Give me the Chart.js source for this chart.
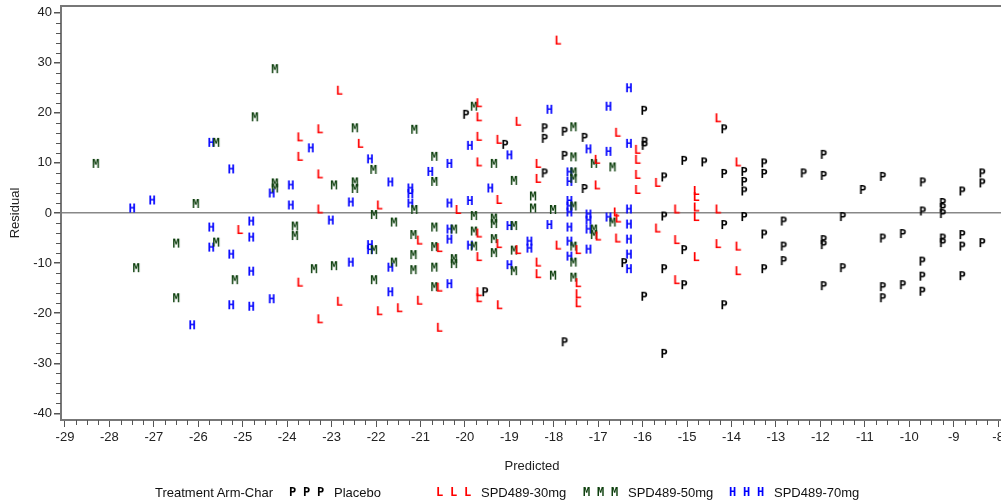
<!DOCTYPE html>
<html>
<head>
<meta charset="utf-8">
<script src="https://cdn.jsdelivr.net/npm/chart.js@4.4.0/dist/chart.umd.min.js"></script>
<style>
html, body { margin: 0; padding: 0; background: #fff; overflow: hidden; }
#wrap { position: relative; width: 1001px; height: 502px; overflow: hidden; }
#residChart { position: absolute; left: 0; top: 0; }
#legend { position: absolute; left: 0; top: 485px; width: 1001px; height: 16px;
  font: 13px "Liberation Sans", Arial, sans-serif; color: #111; }
#legend span { position: absolute; top: 0; white-space: nowrap; line-height: 16px; }
#legend .mk { font: bold 12px "DejaVu Sans Mono", monospace; }
</style>
</head>
<body>
<div id="wrap">
  <canvas id="residChart" width="1009" height="502"></canvas>
  <div id="legend"></div>
</div>
<script>
// tick labels
const xTicks = [-29, -28, -27, -26, -25, -24, -23, -22, -21, -20, -19, -18, -17, -16, -15, -14, -13, -12, -11, -10, -9, -8];
const yTicks = [-40, -30, -20, -10, 0, 10, 20, 30, 40];

// Placebo (P) : [predicted, residual]
const placeboPts = [
  [-19.98, 19.6], [-19.1, 13.6], [-18.21, 16.9], [-17.76, 16.2], [-18.21, 14.8], [-17.31, 15.0],
  [-15.97, 20.4], [-15.96, 14.2], [-15.96, 13.4], [-17.76, 11.4], [-18.21, 7.9], [-17.31, 4.8],
  [-15.52, 7.1], [-15.52, -0.7], [-16.42, -10.0], [-15.52, -11.2], [-15.97, -16.7], [-17.76, -25.8],
  [-15.52, -28.1], [-19.55, -15.8], [-14.17, 16.7], [-15.07, 10.4], [-14.62, 10.1], [-13.27, 9.9],
  [-13.27, 7.8], [-11.93, 11.6], [-11.93, 7.4], [-12.38, 7.9], [-14.17, 7.8], [-13.72, 8.2],
  [-13.72, 6.2], [-13.72, 4.3], [-11.05, 4.6], [-10.6, 7.2], [-9.7, 6.1], [-8.81, 4.3],
  [-8.36, 7.9], [-8.36, 5.9], [-9.25, 2.0], [-9.25, 1.0], [-9.25, -0.2], [-9.7, 0.3],
  [-13.72, -0.8], [-11.5, -0.8], [-14.17, -2.4], [-12.83, -1.7], [-15.07, -7.4], [-13.27, -4.3],
  [-12.83, -6.7], [-12.83, -9.6], [-11.93, -5.4], [-11.93, -6.4], [-10.6, -5.1], [-10.15, -4.2],
  [-9.25, -5.1], [-9.25, -6.0], [-8.81, -4.4], [-8.81, -6.7], [-8.36, -6.0], [-15.07, -14.4],
  [-13.27, -11.2], [-14.17, -18.4], [-11.93, -14.6], [-11.5, -11.0], [-10.6, -14.8], [-10.6, -17.0],
  [-10.15, -14.4], [-9.71, -9.7], [-9.71, -12.7], [-9.71, -15.7], [-8.81, -12.6]
];

// SPD489-30mg (L)
const mg30Pts = [
  [-22.83, 24.4], [-23.72, 15.1], [-23.72, 11.2], [-23.27, 16.7], [-23.27, 7.7], [-23.27, 0.7],
  [-25.07, -3.4], [-23.72, -13.9], [-22.83, -17.7], [-23.27, -21.2], [-17.91, 34.4], [-19.69, 21.9],
  [-19.69, 19.1], [-18.81, 18.2], [-16.57, 16.0], [-22.36, 13.8], [-19.69, 15.2], [-19.24, 14.6],
  [-16.12, 12.6], [-16.12, 10.6], [-19.69, 10.1], [-17.03, 10.6], [-18.36, 9.8], [-18.36, 6.8],
  [-16.12, 7.6], [-15.67, 6.0], [-17.03, 5.5], [-16.12, 4.6], [-19.24, 2.6], [-21.93, 1.5],
  [-20.16, 0.6], [-16.6, 0.1], [-16.56, -1.1], [-17.01, -4.7], [-16.57, -5.1], [-15.67, -3.1],
  [-21.03, -5.5], [-19.69, -4.1], [-19.24, -6.2], [-20.58, -7.0], [-19.69, -8.8], [-18.81, -7.4],
  [-17.91, -6.5], [-17.46, -7.4], [-18.36, -9.9], [-18.36, -12.2], [-17.46, -14.0], [-17.46, -16.2],
  [-17.46, -18.0], [-20.58, -14.9], [-19.69, -15.8], [-19.69, -17.0], [-19.23, -18.4], [-21.93, -19.6],
  [-21.48, -19.0], [-21.03, -17.5], [-20.58, -22.9], [-14.31, 18.9], [-13.86, 10.1], [-14.8, 4.4],
  [-14.8, 3.2], [-14.8, 1.1], [-14.8, -0.8], [-15.24, 0.7], [-14.31, 0.7], [-15.24, -5.4],
  [-14.8, -8.8], [-14.31, -6.2], [-13.86, -6.7], [-15.24, -13.4], [-13.86, -11.6]
];

// SPD489-50mg (M)
const mg50Pts = [
  [-28.31, 9.8], [-26.06, 1.8], [-25.6, 14.0], [-24.73, 19.1], [-24.28, 28.7], [-24.28, 5.9],
  [-24.28, 4.9], [-22.95, 5.5], [-23.83, -2.7], [-23.83, -4.6], [-26.5, -6.1], [-25.6, -5.9],
  [-27.4, -11.0], [-23.4, -11.2], [-22.95, -10.6], [-25.18, -13.4], [-26.5, -17.0], [-19.8, 21.2],
  [-22.48, 16.9], [-21.14, 16.6], [-17.56, 17.1], [-20.69, 11.2], [-19.35, 9.8], [-17.56, 11.1],
  [-17.1, 9.8], [-16.68, 9.1], [-22.06, 8.6], [-17.56, 8.1], [-17.56, 6.8], [-20.69, 6.2],
  [-18.9, 6.4], [-22.48, 6.1], [-22.48, 4.8], [-18.47, 3.3], [-18.47, 0.9], [-18.02, 0.6],
  [-17.56, 1.3], [-21.14, 0.6], [-22.05, -0.4], [-21.6, -1.9], [-19.8, -0.6], [-19.35, -1.1],
  [-19.35, -2.2], [-18.9, -2.6], [-17.1, -3.3], [-17.1, -4.4], [-16.68, -1.9], [-21.16, -4.4],
  [-20.69, -2.9], [-20.25, -3.3], [-19.8, -3.7], [-19.35, -5.2], [-19.8, -6.7], [-22.05, -7.4],
  [-20.69, -6.8], [-21.16, -8.4], [-19.35, -8.0], [-18.9, -7.5], [-17.56, -6.7], [-17.56, -9.9],
  [-21.6, -9.9], [-21.16, -11.4], [-20.69, -10.9], [-20.25, -9.2], [-20.25, -10.2], [-18.9, -11.6],
  [-18.02, -12.5], [-17.56, -12.9], [-22.05, -13.4], [-20.69, -14.8]
];

// SPD489-70mg (H)
const mg70Pts = [
  [-27.49, 0.9], [-27.04, 2.5], [-25.71, 14.0], [-25.26, 8.7], [-24.35, 3.9], [-23.92, 5.5],
  [-23.92, 1.5], [-23.47, 12.9], [-25.71, -2.9], [-24.81, -1.7], [-24.81, -4.9], [-23.02, -1.5],
  [-25.71, -6.9], [-25.26, -8.3], [-24.81, -11.7], [-24.35, -17.2], [-25.26, -18.4], [-24.81, -18.7],
  [-26.14, -22.4], [-16.31, 24.9], [-18.1, 20.6], [-16.77, 21.2], [-19.89, 13.4], [-19.0, 11.5],
  [-16.31, 13.8], [-17.22, 12.7], [-16.77, 12.2], [-22.14, 10.7], [-20.35, 9.8], [-17.65, 8.1],
  [-17.65, 6.2], [-20.78, 8.2], [-21.68, 6.1], [-21.23, 4.9], [-21.23, 3.8], [-19.43, 4.9],
  [-17.65, 2.4], [-17.65, 1.3], [-17.65, 0.1], [-22.57, 2.1], [-21.23, 1.9], [-20.35, 1.9],
  [-19.89, 2.4], [-17.22, -0.3], [-16.77, -0.9], [-16.31, 0.7], [-19.0, -2.6], [-18.1, -2.4],
  [-17.65, -2.9], [-17.22, -1.5], [-17.22, -3.3], [-16.31, -2.3], [-16.31, -5.3], [-16.31, -8.3],
  [-16.31, -11.2], [-20.35, -3.3], [-20.35, -5.3], [-19.89, -6.5], [-22.14, -6.4], [-22.14, -7.4],
  [-18.55, -5.7], [-18.55, -7.1], [-17.65, -5.7], [-17.22, -7.3], [-17.65, -8.7], [-22.57, -9.9],
  [-21.68, -10.9], [-19.0, -10.4], [-21.68, -15.8], [-20.35, -14.2]
];

const groups = [
  { label: 'Placebo', ch: 'P', color: '#000000', pts: placeboPts },
  { label: 'SPD489-30mg', ch: 'L', color: '#ff0000', pts: mg30Pts },
  { label: 'SPD489-50mg', ch: 'M', color: '#0d3f0d', pts: mg50Pts },
  { label: 'SPD489-70mg', ch: 'H', color: '#0000ff', pts: mg70Pts }
];

const FONT = '"Liberation Sans", Arial, sans-serif';

// 글자 마커를 작은 캔버스로 만든다
function letterMarker(ch, color) {
  const c = document.createElement('canvas');
  c.width = 12; c.height = 12;
  const g = c.getContext('2d');
  g.font = 'bold 12px "DejaVu Sans Mono", monospace';
  g.fillStyle = color;
  g.textAlign = 'center';
  g.textBaseline = 'middle';
  g.fillText(ch, 6, 6.5);
  return c;
}

// 보조 눈금과 위쪽 테두리
const extras = {
  id: 'extras',
  afterDraw(chart) {
    const { ctx, chartArea: a, scales: { x, y } } = chart;
    ctx.save();
    ctx.strokeStyle = '#777';
    ctx.lineWidth = 2;
    ctx.beginPath();
    ctx.moveTo(a.left - 1, a.top);
    ctx.lineTo(a.right, a.top);
    ctx.stroke();

    ctx.strokeStyle = '#555';
    ctx.lineWidth = 1;
    ctx.beginPath();
    for (let v = xTicks[0]; v <= xTicks[xTicks.length - 1]; v += 0.25) {
      if (Number.isInteger(v)) continue;
      const px = Math.round(x.getPixelForValue(v)) + 0.5;
      ctx.moveTo(px, a.bottom);
      ctx.lineTo(px, a.bottom + 5);
    }
    for (let v = yTicks[0]; v <= yTicks[yTicks.length - 1]; v += 2) {
      if (v % 10 === 0) continue;
      const py = Math.round(y.getPixelForValue(v)) + 0.5;
      ctx.moveTo(a.left, py);
      ctx.lineTo(a.left - 5, py);
    }
    ctx.stroke();
    ctx.restore();
  }
};

const ctx = document.getElementById('residChart').getContext('2d');
window.residChart = new Chart(ctx, {
  type: 'scatter',
  data: {
    datasets: groups.map(g => ({
      label: g.label,
      data: g.pts.map(p => ({ x: p[0], y: p[1] })),
      pointStyle: letterMarker(g.ch, g.color),
      pointRadius: 5,
      showLine: false
    }))
  },
  options: {
    responsive: false,
    animation: false,
    layout: { padding: { top: 6, right: 0, bottom: 0, left: 0 } },
    plugins: { legend: { display: false }, tooltip: { enabled: false } },
    scales: {
      x: {
        type: 'linear',
        min: -29.09,
        max: -7.89,
        afterBuildTicks: s => { s.ticks = xTicks.map(v => ({ value: v })); },
        afterFit: s => { s.height = 82; s.paddingLeft = 0; s.paddingRight = 0; },
        grid: { drawOnChartArea: false, tickLength: 7, tickColor: '#555' },
        border: { display: true, color: '#777', width: 2 },
        ticks: { font: { family: FONT, size: 13 }, color: '#222', padding: 3, maxRotation: 0, autoSkip: false, callback: v => String(v) },
        title: { display: true, text: 'Predicted', font: { family: FONT, size: 13 }, color: '#222', padding: { top: 0, bottom: 28 } }
      },
      y: {
        type: 'linear',
        min: -41.3,
        max: 41.3,
        afterBuildTicks: s => { s.ticks = yTicks.map(v => ({ value: v })); },
        afterFit: s => { s.width = 61; s.paddingTop = 0; s.paddingBottom = 0; },
        grid: {
          color: c => (c.tick && c.tick.value === 0) ? '#888' : 'rgba(0,0,0,0)',
          lineWidth: 1.5,
          tickLength: 7,
          tickColor: '#555'
        },
        border: { display: true, color: '#777', width: 2 },
        ticks: { font: { family: FONT, size: 13 }, color: '#222', padding: 2, autoSkip: false, callback: v => String(v) },
        title: { display: true, text: 'Residual', font: { family: FONT, size: 13 }, color: '#222', padding: { top: 8, bottom: 0 } }
      }
    }
  },
  plugins: [extras]
});

// 아래쪽 범례 (HTML)
const legendEl = document.getElementById('legend');
function addSpan(text, left, cls, color) {
  const s = document.createElement('span');
  s.textContent = text;
  s.style.left = left + 'px';
  if (cls) s.className = cls;
  if (color) s.style.color = color;
  legendEl.appendChild(s);
}
addSpan('Treatment Arm-Char', 155);
const legendX = [289, 436, 583, 729];
groups.forEach((g, i) => {
  const x0 = legendX[i];
  for (let k = 0; k < 3; k++) addSpan(g.ch, x0 + k * 14, 'mk', g.color);
  addSpan(g.label, x0 + 45, null, '#111');
});
</script>
</body>
</html>
